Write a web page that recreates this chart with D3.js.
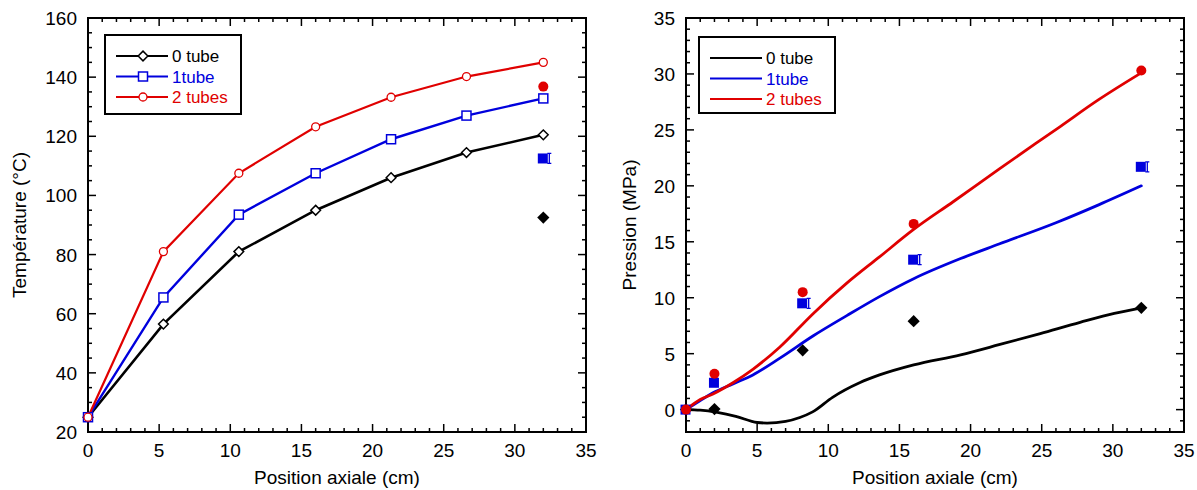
<!DOCTYPE html>
<html>
<head>
<meta charset="utf-8">
<script src="https://cdn.jsdelivr.net/npm/d3@7"></script>
<style>
body { margin: 0; background: #fff; }
svg { font-family: "Liberation Sans", Arial, sans-serif; }
</style>
</head>
<body>
<svg width="1197" height="490"></svg>
<script>
// ---- données : température (gauche)
var posT = [0, 5.3, 10.6, 16, 21.3, 26.6, 32];
var temp0 = [25, 56.5, 81, 95, 106, 114.5, 120.5];
var temp1 = [25, 65.5, 93.5, 107.5, 119, 127, 132.8];
var temp2 = [25, 81, 107.5, 123.2, 133.2, 140.2, 145];
var expPosT = [32];
var expT0 = [92.5];
var expT1 = [112.5];
var expT2 = [136.8];

// ---- données : pression (droite)
var posP0 = [0, 1, 2.2, 3.5, 5, 5.7, 7, 8, 8.9, 10.3, 12.2, 13.6, 16, 19.3, 22, 24.9, 27.7, 30.1, 32];
var pres0 = [0, -0.05, -0.25, -0.6, -1.15, -1.2, -1.05, -0.7, -0.2, 1.1, 2.4, 3.1, 4, 4.9, 5.8, 6.8, 7.8, 8.6, 9.1];
var posP1 = [0, 1, 1.9, 3.3, 4.7, 6.6, 8.95, 11.3, 13.6, 16, 19.3, 22, 26, 29, 32];
var pres1 = [0, 0.8, 1.5, 2.3, 3.1, 4.6, 6.6, 8.4, 10.1, 11.7, 13.5, 14.8, 16.7, 18.3, 20];
var posP2 = [0, 1, 1.9, 3.3, 4.7, 6.6, 8.95, 11.3, 13.6, 16, 18.8, 22, 26.3, 29, 32];
var pres2 = [0, 0.9, 1.4, 2.4, 3.6, 5.6, 8.6, 11.3, 13.65, 16.1, 18.6, 21.5, 25.3, 27.7, 30.1];
var expPosP = [0, 2, 8.2, 16, 32];
var expP0 = [0, 0.05, 5.3, 7.9, 9.1];
var expP1 = [0, 2.4, 9.5, 13.4, 21.7];
var expP2 = [0, 3.2, 10.5, 16.6, 30.3];

var labels = ["0 tube", "1tube", "2 tubes"];
var colors = ["#000000", "#0000dd", "#e00000"];

var svg = d3.select('svg');
var pts = function(xs, ys){ return xs.map(function(x,i){ return [x, ys[i]]; }); };

function frame(x0, x1, y0, y1, xScale, yScale, xMajor, xMinor, yMajor, yMinor) {
  var g = svg.append('g');
  var big = 8, small = 4;
  // graduations sur les 4 côtés, vers l'intérieur
  var xt = d3.range(xScale.domain()[0], xScale.domain()[1] + 1e-9, xMinor);
  xt.forEach(function(v){
    var isMaj = Math.abs(v / xMajor - Math.round(v / xMajor)) < 1e-6;
    var L = isMaj ? big : small;
    g.append('line').attr('x1', xScale(v)).attr('x2', xScale(v)).attr('y1', y1).attr('y2', y1 - L).attr('stroke', '#000').attr('stroke-width', 1.5);
    g.append('line').attr('x1', xScale(v)).attr('x2', xScale(v)).attr('y1', y0).attr('y2', y0 + L).attr('stroke', '#000').attr('stroke-width', 1.5);
    if (isMaj) g.append('text').attr('x', xScale(v)).attr('y', y1 + 25).attr('text-anchor', 'middle').attr('font-size', 19).text(v);
  });
  var yt = d3.range(yScale.domain()[0], yScale.domain()[1] + 1e-9, yMinor);
  yt.forEach(function(v){
    var isMaj = Math.abs(v / yMajor - Math.round(v / yMajor)) < 1e-6;
    var L = isMaj ? big : small;
    g.append('line').attr('y1', yScale(v)).attr('y2', yScale(v)).attr('x1', x0).attr('x2', x0 + L).attr('stroke', '#000').attr('stroke-width', 1.5);
    g.append('line').attr('y1', yScale(v)).attr('y2', yScale(v)).attr('x1', x1).attr('x2', x1 - L).attr('stroke', '#000').attr('stroke-width', 1.5);
    if (isMaj) g.append('text').attr('x', x0 - 11).attr('y', yScale(v) + 7).attr('text-anchor', 'end').attr('font-size', 19).text(v);
  });
  g.append('rect').attr('x', x0).attr('y', y0).attr('width', x1 - x0).attr('height', y1 - y0)
    .attr('fill', 'none').attr('stroke', '#000').attr('stroke-width', 2);
  return g;
}

function legend(bx, by, bw, bh, withMarkers) {
  var g = svg.append('g');
  g.append('rect').attr('x', bx).attr('y', by).attr('width', bw).attr('height', bh)
    .attr('fill', '#fff').attr('stroke', '#000').attr('stroke-width', 2);
  labels.forEach(function(lab, i){
    var yy = by + 21 + i * 20.5;
    g.append('line').attr('x1', bx + 11).attr('x2', bx + 63).attr('y1', yy).attr('y2', yy)
      .attr('stroke', colors[i]).attr('stroke-width', 2);
    if (withMarkers) openMarker(g, i, bx + 38, yy);
    g.append('text').attr('x', bx + 67).attr('y', yy + 6).attr('font-size', 17).attr('fill', colors[i]).text(lab);
  });
}

function openMarker(g, i, x, y) {
  if (i === 0) g.append('path').attr('d', d3.symbol(d3.symbolDiamond2, 60)()).attr('transform', 'translate(' + x + ',' + y + ')')
      .attr('fill', '#fff').attr('stroke', colors[0]).attr('stroke-width', 1.5);
  if (i === 1) g.append('rect').attr('x', x - 4.5).attr('y', y - 4.5).attr('width', 9).attr('height', 9)
      .attr('fill', '#fff').attr('stroke', colors[1]).attr('stroke-width', 1.5);
  if (i === 2) g.append('circle').attr('cx', x).attr('cy', y).attr('r', 4)
      .attr('fill', '#fff').attr('stroke', colors[2]).attr('stroke-width', 1.3);
}

function filledMarker(g, i, x, y, bar) {
  if (i === 0) g.append('path').attr('d', d3.symbol(d3.symbolDiamond2, 95)()).attr('transform', 'translate(' + x + ',' + y + ')')
      .attr('fill', colors[0]);
  if (i === 1) {
    g.append('rect').attr('x', x - 5.5).attr('y', y - 5).attr('width', 10).attr('height', 10).attr('fill', colors[1]);
    // petite barre d'erreur
    if (bar) g.append('path').attr('d', 'M' + (x + 4) + ',' + (y - 5) + 'h4M' + (x + 6) + ',' + (y - 5) + 'v10M' + (x + 4) + ',' + (y + 5) + 'h4')
      .attr('stroke', colors[1]).attr('stroke-width', 1.3).attr('fill', 'none');
  }
  if (i === 2) g.append('circle').attr('cx', x).attr('cy', y).attr('r', 5).attr('fill', colors[2]);
}

// ================= Graphique gauche =================
var L = {x0: 88, x1: 586, y0: 18, y1: 432};
var xL = d3.scaleLinear().domain([0, 35]).range([L.x0, L.x1]);
var yL = d3.scaleLinear().domain([20, 160]).range([L.y1, L.y0]);
frame(L.x0, L.x1, L.y0, L.y1, xL, yL, 5, 1, 20, 5);

var lineL = d3.line().x(function(d){ return xL(d[0]); }).y(function(d){ return yL(d[1]); });
var seriesT = [temp0, temp1, temp2];
var widthsT = [2.6, 2.4, 2.2];
var gp = svg.append('g');
seriesT.forEach(function(s, i){
  gp.append('path').datum(pts(posT, s)).attr('d', lineL).attr('fill', 'none')
    .attr('stroke', colors[i]).attr('stroke-width', widthsT[i]);
});
seriesT.forEach(function(s, i){
  posT.forEach(function(x, j){ openMarker(gp, i, xL(x), yL(s[j])); });
});
[expT0, expT1, expT2].forEach(function(s, i){
  expPosT.forEach(function(x, j){ filledMarker(gp, i, xL(x), yL(s[j]), true); });
});
legend(105, 35, 136, 79, true);

svg.append('text').attr('x', (L.x0 + L.x1) / 2).attr('y', 484).attr('text-anchor', 'middle').attr('font-size', 19).text('Position axiale (cm)');
svg.append('text').attr('transform', 'translate(26,' + ((L.y0 + L.y1) / 2) + ') rotate(-90)').attr('text-anchor', 'middle').attr('font-size', 19).text('Température (°C)');

// ================= Graphique droit =================
var R = {x0: 686, x1: 1184, y0: 18, y1: 432};
var xR = d3.scaleLinear().domain([0, 35]).range([R.x0, R.x1]);
var yR = d3.scaleLinear().domain([-2, 35]).range([R.y1, R.y0]);
frame(R.x0, R.x1, R.y0, R.y1, xR, yR, 5, 1, 5, 1);

var lineR = d3.line().curve(d3.curveMonotoneX).x(function(d){ return xR(d[0]); }).y(function(d){ return yR(d[1]); });
var gr = svg.append('g');
[[posP0, pres0], [posP1, pres1], [posP2, pres2]].forEach(function(s, i){
  gr.append('path').datum(pts(s[0], s[1])).attr('d', lineR).attr('fill', 'none')
    .attr('stroke', colors[i]).attr('stroke-width', 2.8).attr('stroke-linecap', 'round');
});
[expP0, expP1, expP2].forEach(function(s, i){
  expPosP.forEach(function(x, j){ filledMarker(gr, i, xR(x), yR(s[j]), x >= 8); });
});
legend(699, 37, 136, 76, false);

svg.append('text').attr('x', (R.x0 + R.x1) / 2).attr('y', 484).attr('text-anchor', 'middle').attr('font-size', 19).text('Position axiale (cm)');
svg.append('text').attr('transform', 'translate(636,' + ((R.y0 + R.y1) / 2) + ') rotate(-90)').attr('text-anchor', 'middle').attr('font-size', 19).text('Pression (MPa)');
</script>
</body>
</html>
